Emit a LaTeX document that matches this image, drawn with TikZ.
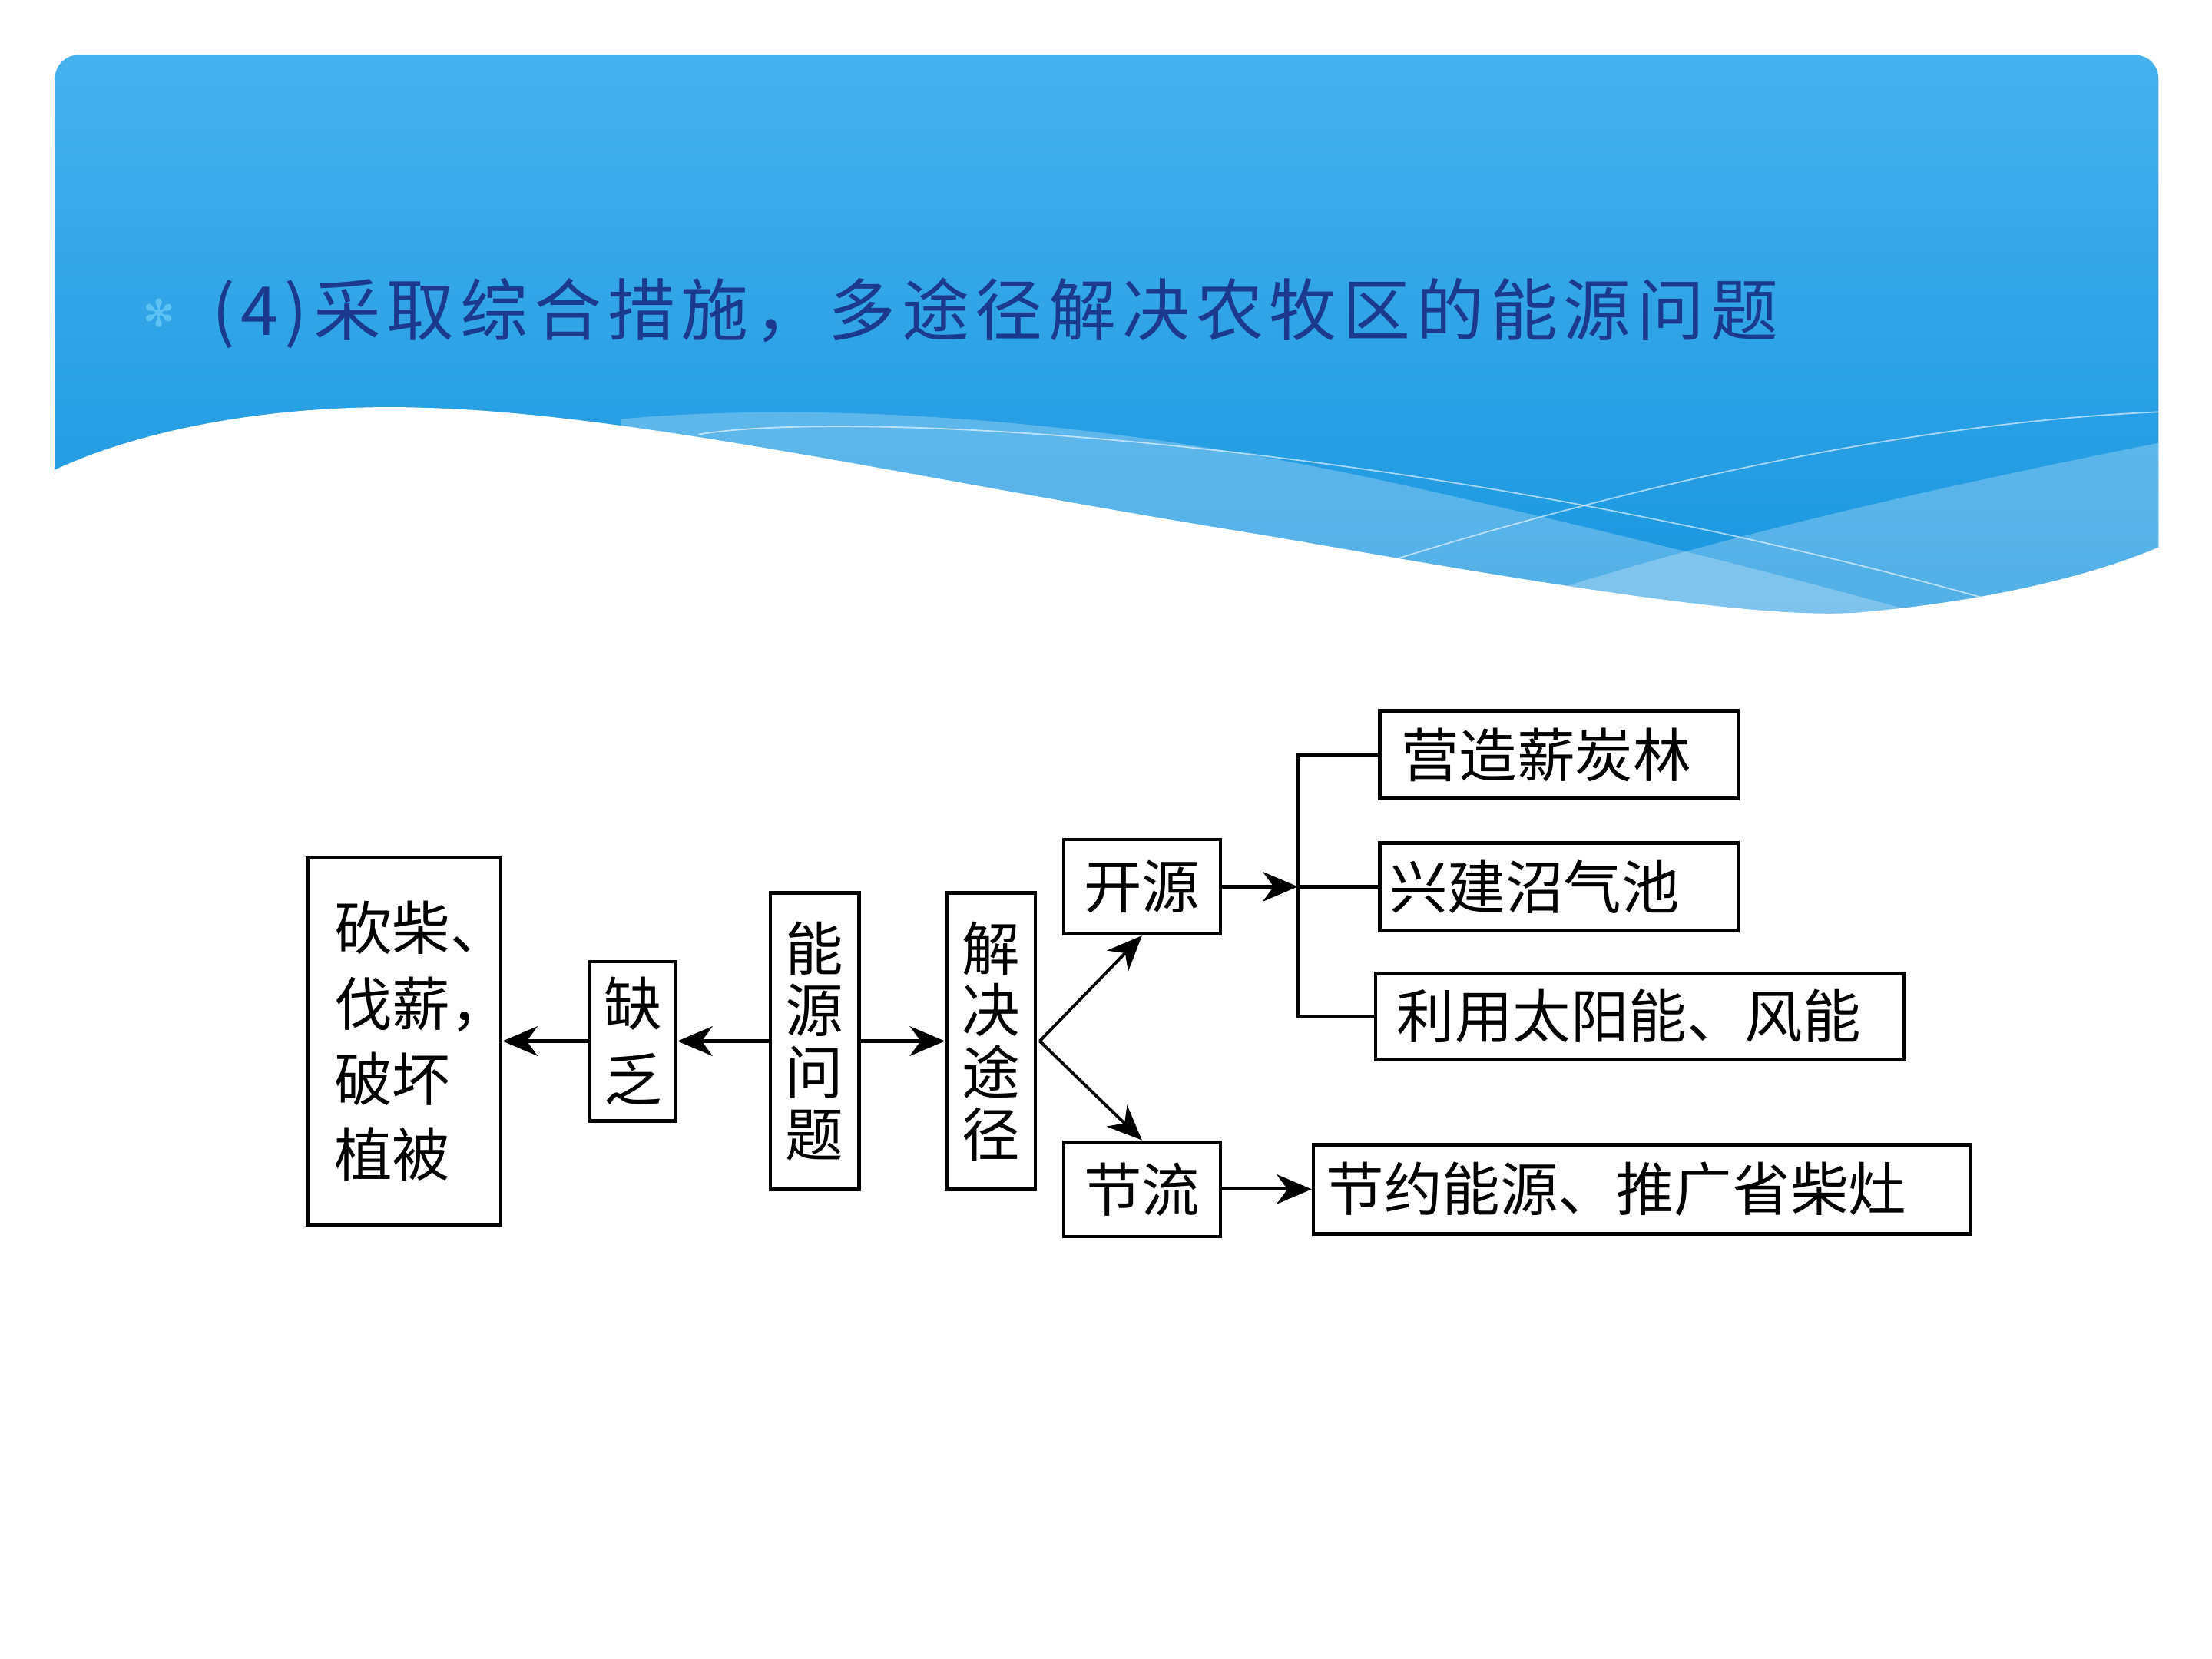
\documentclass[tikz,border=0pt]{standalone}
\usepackage{fontspec}
\usepackage{tikz}
\usetikzlibrary{arrows.meta}
\newfontfamily\cjk{Noto Sans CJK SC}
\newfontfamily\cjktitle[LetterSpace=9]{Noto Sans CJK SC}
\newfontfamily\symfont{DejaVu Sans}
\definecolor{headtop}{HTML}{45B1EE}
\definecolor{headbot}{HTML}{1795DF}
\definecolor{titleblue}{HTML}{1B3A8E}
\definecolor{dotblue}{HTML}{5CC3F4}

\tikzset{
  box/.style={draw, line width=1.3pt, inner sep=0pt, font=\cjk\fontsize{21.5pt}{23pt}\selectfont},
  widebox/.style={box, font=\cjk\fontsize{21.5pt}{28pt}\selectfont},
  rbox/.style args={#1/#2}{box, align=left, inner xsep=#1, text width=#2},
  conn/.style={line width=1.2pt},
  arr/.style={conn, -{Stealth[length=13pt, width=11pt, inset=4pt]}}
}

\begin{document}
\begin{tikzpicture}[x=0.018367cm, y=-0.018367cm]
			\useasboundingbox (0,0) rectangle (1568,1176);
			% Header
			\shade[top color=headtop, bottom color=headbot, rounded corners=0.3cm] (39,450) -- (39,39) -- (1530,39) -- (1530,450) -- cycle;
			\fill[white, fill opacity=0.25] (440,297) .. controls (600,283) and (800,300) .. (1000,345) .. controls (1200,390) and (1330,425) .. (1450,460) -- (440,460) -- cycle;
			\fill[white, fill opacity=0.25] (1530,314) .. controls (1350,350) and (1150,395) .. (980,460) -- (1530,460) -- cycle;
			\draw[white, opacity=0.6, line width=0.5pt] (495,308) .. controls (600,290) and (1000,310) .. (1410,425);
			\draw[white, opacity=0.6, line width=0.5pt] (965,404) .. controls (1150,345) and (1350,300) .. (1530,292);
			\fill[white] (39,333) .. controls (110,300) and (210,286) .. (300,289) .. controls (450,293) and (650,340) .. (900,380) .. controls (1100,415) and (1250,440) .. (1320,434) .. controls (1420,425) and (1490,405) .. (1530,388) -- (1540,470) -- (30,470) -- cycle;
			\node[text=dotblue, font=\symfont\fontsize{14pt}{16pt}\selectfont, inner sep=0pt] (bullet) at (113,222) {✻};
			\node[anchor=west, text=titleblue, font=\cjktitle\fontsize{25pt}{30pt}\selectfont, inner sep=0pt] (title) at (150,222) {(4)采取综合措施，多途径解决农牧区的能源问题};

			% Nodes
			\node[widebox, align=left, inner xsep=0.349cm, text width=1.818cm, minimum height=4.775cm] (pohuai) at (286.5,738) {砍柴、\\伐薪，\\破坏\\植被};
			\node[widebox, align=center, minimum width=1.120cm, minimum height=2.075cm] (quefa) at (448.5,738) {缺\\乏};
			\node[box, align=center, minimum width=1.157cm, minimum height=3.857cm] (wenti) at (577.5,738) {能\\源\\问\\题};
			\node[box, align=center, minimum width=1.157cm, minimum height=3.857cm] (tujing) at (702.5,738) {解\\决\\途\\径};
			\node[box, minimum width=2.039cm, minimum height=1.231cm] (kaiyuan) at (809.5,628.5) {开源};
			\node[box, minimum width=2.039cm, minimum height=1.231cm] (jieliu) at (809.5,843) {节流};
			\node[rbox=0.276cm/4.113cm, minimum height=1.139cm] (yingzao) at (1105,535) {营造薪炭林};
			\node[rbox=0.129cm/4.407cm, minimum height=1.139cm] (xingjian) at (1105,628.5) {兴建沼气池};
			\node[rbox=0.276cm/6.336cm, minimum height=1.120cm] (liyong) at (1162.5,720.5) {利用太阳能、风能};
			\node[rbox=0.165cm/8.229cm, minimum height=1.157cm] (jieyue) at (1164,843) {节约能源、推广省柴灶};
			\coordinate (fork) at (920,628.5);
			\coordinate (split) at (737,738);

			% Connectors
			\draw[arr] (wenti.west) -- (quefa.east);
			\draw[arr] (quefa.west) -- (pohuai.east);
			\draw[arr] (wenti.east) -- (tujing.west);
			\draw[arr, line width=1.1pt] (split) -- (kaiyuan.south);
			\draw[arr, line width=1.1pt] (split) -- (jieliu.north);
			\draw[arr] (kaiyuan.east) -- (fork);
			\draw[conn] (yingzao.west) -| (fork) |- (liyong.west);
			\draw[conn] (fork) -- (xingjian.west);
			\draw[arr] (jieliu.east) -- (jieyue.west);
		\end{tikzpicture}
\end{document}
